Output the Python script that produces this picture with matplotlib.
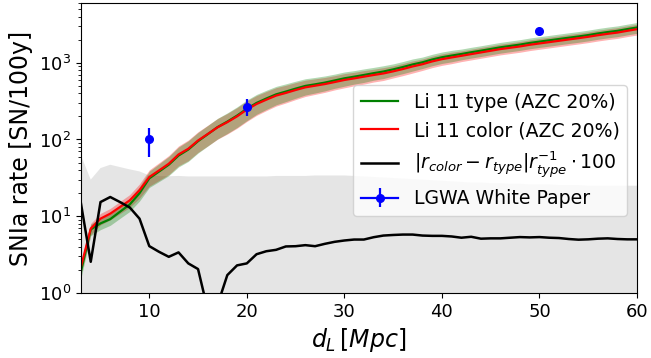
import numpy as np
import matplotlib
matplotlib.use("Agg")
import matplotlib.pyplot as plt

# Luminosity distance grid [Mpc]
d_l = list(range(3, 61))

# SN Ia rate from the colour-based Li+11 rates [SN/100y]
rate_color = [2.2, 6.9, 9.3, 10.8, 13.2, 16.1, 21.8, 32.4, 39.5, 48.3,
              63.8, 75.7, 97, 118, 144, 168, 200, 245, 290, 330,
              373, 404, 441, 478, 502, 527, 560, 596, 625, 658,
              692, 725, 772, 828, 895, 956, 1040, 1113, 1172, 1231,
              1295, 1362, 1432, 1506, 1567, 1630, 1713, 1783, 1855, 1931,
              2010, 2090, 2178, 2284, 2381, 2472, 2605, 2735]

# Signed relative difference (r_color - r_type) / r_type * 100
rel_diff = [14.6, 2.55, 15.3, 17.8, 15.3, 13.0, 9.3, 4.08, 3.44, 2.96,
            3.38, 2.43, 2.05, 0.6, -0.7, -1.71, -2.29, -2.43, -3.2, -3.5,
            -3.65, -4.04, -4.07, -4.2, -4.07, -4.37, -4.64, -4.83, -4.97, -4.97,
            -5.33, -5.6, -5.7, -5.77, -5.77, -5.6, -5.55, -5.55, -5.45, -5.25,
            -5.4, -5.1, -5.15, -5.15, -5.25, -5.35, -5.3, -5.35, -5.25, -5.2,
            -5.05, -4.95, -5.0, -5.1, -5.15, -5.05, -5.0, -5.0]

# Fractional half-width of the uncertainty bands
band_frac = [0.18, 0.17, 0.17, 0.17, 0.18, 0.19, 0.21, 0.24, 0.26, 0.28,
             0.29, 0.30, 0.30, 0.30, 0.30, 0.30, 0.30, 0.30, 0.29, 0.28,
             0.27, 0.26, 0.25, 0.24, 0.23, 0.22, 0.21, 0.21, 0.20, 0.20,
             0.19, 0.19, 0.18, 0.18, 0.18, 0.17, 0.17, 0.17, 0.17, 0.16,
             0.16, 0.16, 0.16, 0.16, 0.16, 0.16, 0.16, 0.16, 0.16, 0.16,
             0.16, 0.16, 0.16, 0.16, 0.16, 0.16, 0.16, 0.16]

# Upper envelope of the shaded background region
grey_upper = [62, 30, 42.4, 46.9, 43.7, 40.8, 38.4, 34, 33.4, 33.2,
              33.5, 33, 33, 33, 33, 33, 33, 33, 33, 33,
              33.5, 33.5, 33.5, 33.5, 34, 34, 34, 34, 33.5, 33,
              32.5, 32, 31.5, 31, 30.5, 30, 29.5, 29, 28.5, 28,
              27.5, 27.5, 27, 27, 26.5, 26.5, 26, 26, 26, 25.5,
              25.5, 25.5, 25, 25, 25, 25, 25, 25]

# LGWA White Paper estimates
lgwa_d = [10, 20, 50]
lgwa_rate = [100, 268, 2600]
lgwa_err = [40, 65, 0]

x = np.array(d_l, dtype=float)
r_col = np.array(rate_color)
diff = np.array(rel_diff)
r_typ = r_col / (1 + diff / 100.0)
frac = np.array(band_frac)

fig = plt.figure(figsize=(6.51, 3.58), dpi=100)
ax = fig.add_axes([0.1244, 0.1816, 0.8541, 0.8100])

ax.fill_between(x, 0, grey_upper, color="gray", alpha=0.2, lw=0)

ax.fill_between(x, r_col * (1 - frac), r_col * (1 + frac), color="red", alpha=0.3, lw=0)
ax.fill_between(x, r_typ * (1 - frac), r_typ * (1 + frac), color="green", alpha=0.3, lw=0)
ax.plot(x, r_typ, color="green", lw=1.6, label="Li 11 type (AZC 20%)")
ax.plot(x, r_col, color="red", lw=1.6, label="Li 11 color (AZC 20%)")

ax.plot(x, np.abs(diff), color="black", lw=1.8,
        label=r"$|r_{color}-r_{type}|r_{type}^{-1}\cdot100$")

# one errorbar call per estimate
for i, (d, r, e) in enumerate(zip(lgwa_d, lgwa_rate, lgwa_err)):
    ax.errorbar([d], [r], yerr=[e], marker="o", ls="-", color="blue",
                ms=5.5, lw=1.6, elinewidth=1.6,
                label="LGWA White Paper" if i == 0 else None)

ax.set_yscale("log")
ax.set_xlim(3, 60)
ax.set_ylim(1, 6000)
ax.tick_params(labelsize=13)
ax.set_xlabel(r"$d_L\,[Mpc]$", fontsize=17)
ax.set_ylabel("SNIa rate [SN/100y]", fontsize=17)

ax.legend(loc="upper right", bbox_to_anchor=(0.982, 0.717), borderaxespad=0,
          fontsize=13.6, framealpha=0.8)

fig.savefig("out.png", dpi=100)
